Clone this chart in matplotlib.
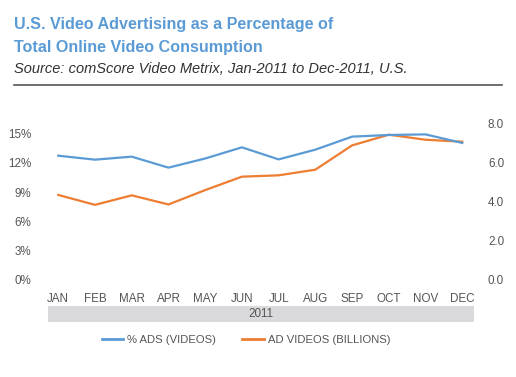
import matplotlib.pyplot as plt
from matplotlib.patches import Rectangle
from matplotlib.lines import Line2D

plt.rcParams['font.family'] = ['Liberation Sans', 'DejaVu Sans']

months = ["JAN", "FEB", "MAR", "APR", "MAY", "JUN", "JUL", "AUG", "SEP", "OCT", "NOV", "DEC"]
pct_ads = [12.74, 12.33, 12.64, 11.51, 12.45, 13.6, 12.36, 13.36, 14.7, 14.87, 14.93, 14.05]
ad_videos = [4.35, 3.84, 4.33, 3.86, 4.6, 5.29, 5.36, 5.65, 6.9, 7.45, 7.19, 7.09]
left_ticks = [0, 3, 6, 9, 12, 15]
right_ticks = [0, 2, 4, 6, 8]

BLUE = "#5b9bd5"
ORANGE = "#ed7d31"
TXT = "#555555"

W, H = 516, 377
fig = plt.figure(figsize=(W / 100, H / 100), dpi=100)

# titles
fig.text(14 / W, 1 - 25 / H, "U.S. Video Advertising as a Percentage of", color=BLUE,
         fontsize=11.6, fontweight="bold", va="center")
fig.text(14 / W, 1 - 47.5 / H, "Total Online Video Consumption", color=BLUE,
         fontsize=11.6, fontweight="bold", va="center")
fig.text(14 / W, 1 - 69 / H, "Source: comScore Video Metrix, Jan-2011 to Dec-2011, U.S.",
         color="#333333", fontsize=10.5, style="italic", va="center")
fig.add_artist(Line2D([14 / W, 502 / W], [1 - 85 / H, 1 - 85 / H], color="#555555", lw=1.2))

# plot area
ax = fig.add_axes([48 / W, 1 - 279.5 / H, 426 / W, 155.5 / H])
x = range(len(months))
ax.plot(x, pct_ads, color=BLUE, lw=1.6)
ax.set_ylim(0, 16)
ax.set_xlim(-0.28, 11.32)
ax.set_yticks(left_ticks)
ax.set_yticklabels([f"{t}%" for t in left_ticks])
ax.set_xticks(list(x))
ax.set_xticklabels(months)

ax2 = ax.twinx()
ax2.plot(x, ad_videos, color=ORANGE, lw=1.6)
ax2.set_ylim(0, 8)
ax2.set_yticks(right_ticks)
ax2.set_yticklabels([f"{t:.1f}" for t in right_ticks])

for a in (ax, ax2):
    for s in a.spines.values():
        s.set_visible(False)
    a.tick_params(length=0, labelsize=8.4, labelcolor=TXT)
ax.tick_params(axis="x", pad=10)
ax.tick_params(axis="y", pad=12)
ax2.tick_params(axis="y", pad=10)
ax.set_zorder(ax2.get_zorder() + 1)
ax.patch.set_visible(False)

# year band
fig.patches.append(Rectangle((48 / W, 1 - 322 / H), 426 / W, 16 / H,
                             transform=fig.transFigure, facecolor="#dadadc", edgecolor="none"))
fig.text(261 / W, 1 - 314 / H, "2011", ha="center", va="center", fontsize=8.4, color=TXT)

# legend
handles = [Line2D([], [], color=BLUE, lw=2), Line2D([], [], color=ORANGE, lw=2)]
fig.legend(handles, ["% ADS (VIDEOS)", "AD VIDEOS (BILLIONS)"], ncol=2, frameon=False,
           loc="center", bbox_to_anchor=(246 / W, 1 - 340 / H), fontsize=8.1,
           labelcolor=TXT, handlelength=1.9, handletextpad=0.4, columnspacing=2.3)

fig.savefig("out.png", dpi=100)
